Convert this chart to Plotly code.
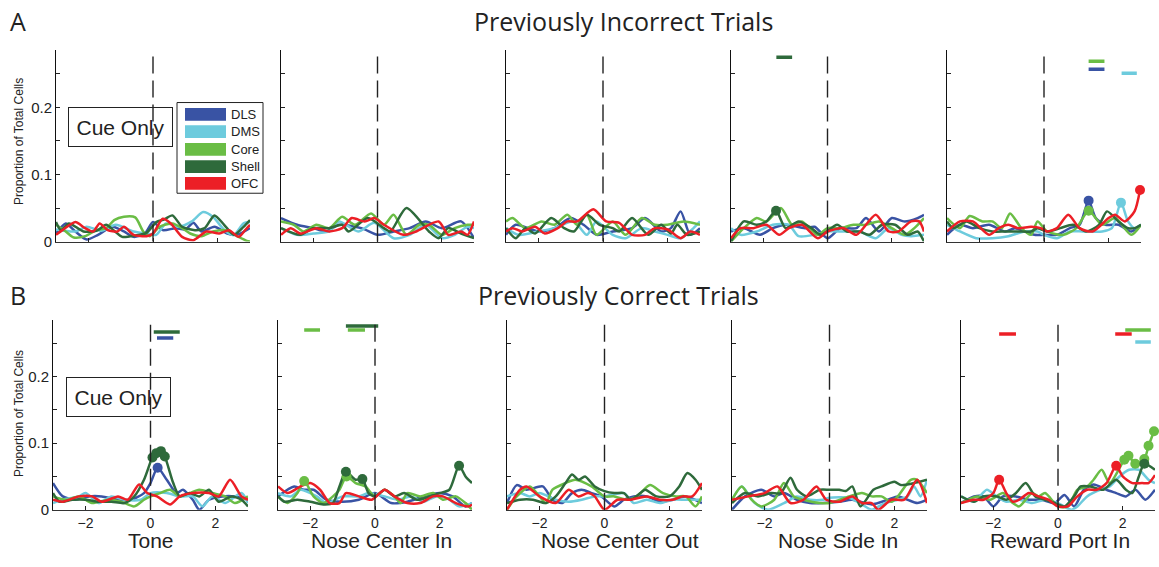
import plotly.graph_objects as go

W, H = 1159, 567

# ---------------- data ----------------
REGIONS = ["DLS", "DMS", "Core", "Shell", "OFC"]
COLORS = {"DLS": "#3953A4", "DMS": "#6DCBDD", "Core": "#6ABD45",
          "Shell": "#2E6A3B", "OFC": "#EC1F26"}
EVENTS = ["Tone", "Nose Center In", "Nose Center Out", "Nose Side In", "Reward Port In"]
ROW_TITLES = ["Previously Incorrect Trials", "Previously Correct Trials"]
ROW_LETTERS = ["A", "B"]
Y_TITLE = "Proportion of Total Cells"
BOX_TEXT = "Cue Only"
XTICKS = [-2, 0, 2]
YTICKS = [0, 0.05, 0.1, 0.15, 0.2, 0.25]
YTICKTEXT = ["0", "", "0.1", "", "0.2", ""]

# Previously incorrect trials
A1 = {
    "DLS": ([-3, -2.7, -2.4, -2.05, -1.7, -1.25, -0.9, -0.6, -0.25, 0, 0.3, 0.7, 1.0, 1.25, 1.5, 1.9, 2.3, 2.6, 3],
            [0.012, 0.027, 0.015, 0.003, 0.01, 0.022, 0.015, 0.007, 0.012, 0.029, 0.017, 0.02, 0.018, 0.028, 0.015, 0.022, 0.012, 0.01, 0.02]),
    "DMS": ([-3, -2.4, -2.05, -1.6, -1.15, -0.6, -0.2, 0.1, 0.4, 0.8, 1.2, 1.55, 1.85, 2.25, 2.5, 2.8, 3],
            [0.018, 0.015, 0.022, 0.016, 0.025, 0.015, 0.012, 0.01, 0.027, 0.022, 0.03, 0.044, 0.037, 0.015, 0.01, 0.027, 0.029]),
    "Core": ([-3, -2.7, -2.45, -2.1, -1.75, -1.45, -1.2, -0.9, -0.55, -0.3, -0.1, 0.2, 0.6, 0.9, 1.15, 1.5, 1.85, 2.25, 2.6, 2.9, 3],
             [0.025, 0.015, 0.006, 0.008, 0.017, 0.02, 0.032, 0.037, 0.036, 0.015, 0.008, 0.022, 0.027, 0.02, 0.012, 0.008, 0.015, 0.017, 0.008, 0.001, 0.0]),
    "Shell": ([-3, -2.85, -2.6, -2.15, -1.75, -1.45, -1.2, -0.95, -0.55, -0.2, 0.1, 0.35, 0.6, 0.9, 1.3, 1.6, 1.9, 2.2, 2.5, 2.8, 3],
              [0.029, 0.017, 0.027, 0.015, 0.016, 0.025, 0.016, 0.007, 0.009, 0.013, 0.029, 0.033, 0.039, 0.022, 0.017, 0.02, 0.039, 0.025, 0.01, 0.022, 0.032]),
    "OFC": ([-3, -2.8, -2.4, -2.1, -1.85, -1.65, -1.4, -1.1, -0.9, -0.6, -0.2, 0, 0.3, 0.55, 0.9, 1.25, 1.65, 2.05, 2.35, 2.65, 2.85, 3],
            [0.01, 0.017, 0.029, 0.02, 0.015, 0.027, 0.017, 0.015, 0.022, 0.01, 0.008, 0.012, 0.034, 0.027, 0.007, 0.002, 0.015, 0.012, 0.017, 0.007, 0.017, 0.025]),
}
A2 = {
    "DLS": ([-3, -2.5, -2, -1.6, -1.2, -0.5, 0, 0.5, 1, 1.5, 2, 2.6, 3],
            [0.035, 0.025, 0.02, 0.015, 0.025, 0.02, 0.01, 0.015, 0.02, 0.03, 0.02, 0.03, 0.005]),
    "DMS": ([-3, -2.5, -2, -1.5, -1.2, -0.6, -0.1, 0.5, 1, 1.5, 2, 2.4, 2.8, 3],
            [0.02, 0.01, 0.012, 0.015, 0.03, 0.015, 0.028, 0.005, 0.01, 0.025, 0.005, 0.01, 0.022, 0.02]),
    "Core": ([-3, -2.6, -2.3, -1.9, -1.5, -1.1, -0.7, -0.2, 0.2, 0.5, 0.9, 1.3, 1.6, 2.0, 2.4, 2.8, 3],
             [0.03, 0.025, 0.015, 0.025, 0.02, 0.037, 0.025, 0.042, 0.025, 0.04, 0.01, 0.025, 0.025, 0.01, 0.02, 0.025, 0.025]),
    "Shell": ([-3, -2.4, -2, -1.5, -1.1, -0.9, -0.3, 0.2, 0.4, 0.9, 1.6, 1.9, 2.2, 2.6, 3],
              [0.02, 0.01, 0.02, 0.02, 0.025, 0.015, 0.035, 0.02, 0.015, 0.05, 0.015, 0.005, 0.02, 0.012, 0.005]),
    "OFC": ([-3, -2.7, -2.4, -1.9, -1.5, -1.1, -0.8, -0.4, -0.1, 0.2, 0.8, 1.2, 1.9, 2.2, 2.6, 2.8, 3],
            [0.01, 0.02, 0.012, 0.02, 0.015, 0.02, 0.035, 0.03, 0.035, 0.025, 0.01, 0.015, 0.03, 0.01, 0.015, 0.01, 0.03]),
}
A3 = {
    "DLS": ([-3, -2.7, -2, -1.5, -1.0, -0.6, -0.2, 0.3, 0.9, 1.3, 1.8, 2.1, 2.4, 2.7, 3],
            [0.01, 0.025, 0.015, 0.02, 0.035, 0.025, 0.01, 0.015, 0.02, 0.035, 0.015, 0.02, 0.045, 0.01, 0.02]),
    "DMS": ([-3, -2.6, -2, -1.5, -0.9, -0.5, -0.2, 0.3, 0.7, 1.2, 1.6, 2, 2.4, 2.8, 3],
            [0.02, 0.01, 0.015, 0.02, 0.03, 0.01, 0.03, 0.01, 0.005, 0.02, 0.015, 0.01, 0.005, 0.02, 0.03]),
    "Core": ([-3, -2.8, -2.4, -1.9, -1.5, -1.1, -0.8, -0.5, -0.2, 0.3, 0.7, 1.2, 1.6, 2.0, 2.5, 3],
             [0.03, 0.035, 0.02, 0.03, 0.025, 0.04, 0.025, 0.04, 0.01, 0.03, 0.01, 0.035, 0.025, 0.025, 0.03, 0.025]),
    "Shell": ([-3, -2.7, -2.4, -2.1, -1.6, -1.2, -0.9, -0.5, -0.1, 0.3, 0.5, 0.9, 1.4, 1.8, 2.1, 2.3, 2.6, 3],
              [0.02, 0.005, 0.02, 0.012, 0.035, 0.02, 0.015, 0.04, 0.025, 0.02, 0.015, 0.035, 0.01, 0.025, 0.012, 0.025, 0.01, 0.015]),
    "OFC": ([-3, -2.8, -2.5, -2.1, -1.8, -1.4, -1.1, -0.8, -0.3, 0.1, 0.5, 0.9, 1.3, 1.6, 2.0, 2.4, 2.7, 3],
            [0.015, 0.02, 0.015, 0.022, 0.012, 0.02, 0.03, 0.03, 0.048, 0.03, 0.028, 0.01, 0.01, 0.02, 0.018, 0.005, 0.015, 0.01]),
}
A4 = {
    "DLS": ([-3, -2.6, -2.1, -1.7, -1.3, -0.7, -0.4, 0, 0.4, 0.9, 1.2, 1.6, 2.0, 2.4, 2.8, 3],
            [0.015, 0.02, 0.01, 0.02, 0.025, 0.02, 0.022, 0.005, 0.02, 0.02, 0.035, 0.015, 0.035, 0.03, 0.035, 0.04]),
    "DMS": ([-3, -2.7, -2.2, -1.7, -1.2, -0.9, -0.4, 0, 0.5, 1, 1.5, 1.9, 2.3, 2.6, 3],
            [0.02, 0.01, 0.015, 0.025, 0.025, 0.008, 0.01, 0.015, 0.015, 0.015, 0.005, 0.02, 0.01, 0.008, 0.01]),
    "Core": ([-3, -2.6, -2.2, -1.9, -1.45, -1.1, -0.8, -0.3, 0, 0.4, 0.8, 1.2, 1.6, 2.0, 2.4, 2.7, 3],
             [0.0, 0.02, 0.035, 0.03, 0.05, 0.025, 0.03, 0.01, 0.02, 0.02, 0.025, 0.025, 0.03, 0.02, 0.01, 0.02, 0.035]),
    "Shell": ([-3, -2.6, -2.2, -1.9, -1.6, -1.3, -0.9, -0.5, -0.2, 0.3, 0.6, 1, 1.3, 1.7, 2.1, 2.5, 2.8, 3],
              [0.0, 0.03, 0.025, 0.03, 0.046, 0.02, 0.03, 0.02, 0.01, 0.025, 0.015, 0.015, 0.01, 0.025, 0.025, 0.01, 0.015, 0.0]),
    "OFC": ([-3, -2.7, -2.3, -1.9, -1.5, -1.2, -0.8, -0.3, 0, 0.5, 0.9, 1.5, 1.9, 2.2, 2.6, 2.85, 3],
            [0.005, 0.02, 0.02, 0.025, 0.01, 0.02, 0.025, 0.005, 0.015, 0.02, 0.01, 0.04, 0.015, 0.015, 0.03, 0.03, 0.015]),
}
A5 = {
    "DLS": ([-3, -2.6, -2.2, -1.7, -1.2, -0.9, -0.3, 0, 0.4, 0.8, 1.1, 1.38, 1.6, 1.9, 2.3, 2.7, 3],
            [0.01, 0.025, 0.02, 0.025, 0.015, 0.02, 0.01, 0.01, 0.01, 0.02, 0.025, 0.061, 0.035, 0.025, 0.025, 0.015, 0.025]),
    "DMS": ([-3, -2.6, -2.1, -1.6, -1.1, -0.6, -0.2, 0, 0.4, 0.8, 1.2, 1.8, 2.1, 2.38, 2.6, 2.8, 3],
            [0.025, 0.015, 0.005, 0.005, 0.008, 0.015, 0.015, 0.01, 0.005, 0.015, 0.015, 0.015, 0.02, 0.058, 0.03, 0.02, 0.025]),
    "Core": ([-3, -2.6, -2.3, -1.9, -1.6, -1.3, -1.05, -0.7, -0.4, -0.2, 0.1, 0.6, 1.0, 1.38, 1.8, 2.2, 2.7, 3],
             [0.035, 0.02, 0.038, 0.03, 0.03, 0.02, 0.042, 0.02, 0.01, 0.03, 0.015, 0.01, 0.02, 0.046, 0.025, 0.035, 0.01, 0.025]),
    "Shell": ([-3, -2.8, -2.4, -2, -1.6, -1.2, -0.8, -0.4, -0.2, 0.1, 0.5, 0.9, 1.3, 1.7, 1.95, 2.3, 2.6, 2.8, 3],
              [0.03, 0.02, 0.03, 0.02, 0.015, 0.015, 0.015, 0.015, 0.02, 0.015, 0.02, 0.025, 0.015, 0.025, 0.045, 0.03, 0.02, 0.02, 0.025]),
    "OFC": ([-3, -2.6, -2.2, -1.7, -1.4, -1.1, -0.8, -0.4, -0.1, 0.1, 0.4, 0.75, 1.1, 1.5, 2.0, 2.2, 2.5, 2.8, 2.97],
            [0.015, 0.03, 0.03, 0.01, 0.02, 0.025, 0.02, 0.022, 0.02, 0.015, 0.02, 0.04, 0.02, 0.015, 0.035, 0.04, 0.03, 0.045, 0.077]),
}

# Previously correct trials
B1 = {
    "DLS": ([-3, -2.7, -2.3, -1.9, -1.5, -1, -0.6, -0.2, 0, 0.22, 0.5, 0.8, 1.0, 1.3, 1.5, 1.8, 2.2, 2.6, 3],
            [0.04, 0.02, 0.015, 0.02, 0.02, 0.015, 0.015, 0.025, 0.04, 0.063, 0.045, 0.025, 0.03, 0.015, 0.0, 0.015, 0.02, 0.02, 0.015]),
    "DMS": ([-3, -2.7, -2.2, -2.0, -1.6, -1.2, -0.8, -0.3, 0, 0.5, 0.9, 1.3, 1.6, 1.9, 2.3, 2.8, 3],
            [0.01, 0.015, 0.02, 0.025, 0.01, 0.02, 0.015, 0.015, 0.025, 0.025, 0.02, 0.02, 0.005, 0.02, 0.01, 0.025, 0.01]),
    "Core": ([-3, -2.6, -2.2, -1.8, -1.3, -0.9, -0.5, -0.2, 0, 0.3, 0.6, 0.9, 1.2, 1.5, 1.9, 2.3, 2.6, 3],
             [0.02, 0.015, 0.02, 0.01, 0.015, 0.012, 0.005, 0.015, 0.02, 0.025, 0.03, 0.02, 0.025, 0.03, 0.025, 0.02, 0.01, 0.02]),
    "Shell": ([-3, -2.8, -2.4, -2, -1.6, -1.2, -0.8, -0.5, -0.2, 0.06, 0.18, 0.32, 0.44, 0.7, 0.9, 1.2, 1.5, 1.8, 2.1, 2.5, 2.8, 3],
              [0.025, 0.012, 0.015, 0.015, 0.012, 0.012, 0.01, 0.02, 0.045, 0.0785, 0.085, 0.088, 0.08, 0.04, 0.02, 0.025, 0.02, 0.03, 0.012, 0.02, 0.015, 0.005]),
    "OFC": ([-3, -2.7, -2.2, -1.8, -1.5, -1, -0.7, -0.35, -0.1, 0.2, 0.6, 0.9, 1.3, 1.8, 2.1, 2.45, 2.8, 3],
            [0.015, 0.012, 0.02, 0.02, 0.012, 0.02, 0.015, 0.038, 0.025, 0.02, 0.008, 0.02, 0.025, 0.025, 0.02, 0.045, 0.02, 0.015]),
}
B2 = {
    "DLS": ([-3, -2.5, -2.2, -1.9, -1.5, -1, -0.5, 0, 0.5, 1, 1.5, 2, 2.4, 2.8, 3],
            [0.02, 0.035, 0.03, 0.03, 0.015, 0.012, 0.015, 0.025, 0.01, 0.012, 0.02, 0.025, 0.02, 0.005, 0.01]),
    "DMS": ([-3, -2.6, -2.3, -1.8, -1.5, -1, -0.5, -0.2, 0.3, 0.7, 1.1, 1.5, 1.9, 2.3, 2.6, 3],
            [0.025, 0.02, 0.03, 0.02, 0.01, 0.02, 0.02, 0.025, 0.02, 0.015, 0.02, 0.012, 0.02, 0.015, 0.005, 0.01]),
    "Core": ([-3, -2.7, -2.4, -2.19, -1.9, -1.6, -1.3, -1.1, -0.88, -0.6, -0.3, 0, 0.3, 0.6, 0.8, 1, 1.4, 1.8, 2.1, 2.5, 2.8, 3],
             [0.02, 0.01, 0.025, 0.043, 0.02, 0.01, 0.02, 0.03, 0.05, 0.04, 0.035, 0.02, 0.03, 0.02, 0.01, 0.025, 0.02, 0.025, 0.015, 0.02, 0.01, 0.0]),
    "Shell": ([-3, -2.8, -2.4, -2, -1.6, -1.3, -1.1, -0.9, -0.6, -0.39, -0.2, 0, 0.3, 0.6, 0.9, 1.3, 1.7, 2, 2.3, 2.6, 2.8, 3],
              [0.02, 0.012, 0.015, 0.012, 0.008, 0.01, 0.035, 0.057, 0.045, 0.046, 0.025, 0.02, 0.03, 0.02, 0.025, 0.015, 0.02, 0.025, 0.03, 0.066, 0.05, 0.04]),
    "OFC": ([-3, -2.7, -2.3, -2, -1.7, -1.4, -1.1, -0.9, -0.5, -0.1, 0.3, 0.6, 1, 1.4, 1.8, 2.1, 2.5, 2.9, 3],
            [0.035, 0.025, 0.035, 0.04, 0.03, 0.01, 0.01, 0.025, 0.02, 0.015, 0.03, 0.02, 0.01, 0.01, 0.02, 0.02, 0.01, 0.005, 0.008]),
}
B3 = {
    "DLS": ([-3, -2.7, -2.4, -1.9, -1.6, -1.3, -1, -0.7, -0.4, -0.1, 0.3, 0.6, 0.9, 1.3, 1.7, 2.1, 2.5, 3],
            [0.01, 0.037, 0.03, 0.035, 0.015, 0.01, 0.025, 0.03, 0.025, 0.02, 0.005, 0.015, 0.02, 0.02, 0.012, 0.015, 0.02, 0.01]),
    "DMS": ([-3, -2.6, -2.3, -2, -1.5, -1.1, -0.7, -0.3, 0, 0.6, 0.9, 1.3, 1.7, 2.1, 2.5, 3],
            [0.02, 0.025, 0.02, 0.025, 0.015, 0.012, 0.015, 0.02, 0.02, 0.025, 0.01, 0.015, 0.01, 0.015, 0.015, 0.015]),
    "Core": ([-3, -2.7, -2.3, -2, -1.8, -1.6, -1.2, -0.9, -0.4, 0, 0.3, 0.7, 1, 1.4, 1.8, 2.2, 2.5, 2.8, 3],
             [0.0, 0.02, 0.035, 0.02, 0.01, 0.03, 0.04, 0.045, 0.035, 0.02, 0.02, 0.015, 0.02, 0.037, 0.025, 0.02, 0.02, 0.005, 0.02]),
    "Shell": ([-3, -2.6, -2.2, -1.8, -1.5, -1.2, -1, -0.8, -0.6, -0.3, 0, 0.3, 0.6, 0.8, 1.1, 1.25, 1.6, 2, 2.3, 2.55, 2.8, 3],
              [0.01, 0.015, 0.015, 0.01, 0.02, 0.04, 0.053, 0.045, 0.05, 0.035, 0.028, 0.025, 0.025, 0.015, 0.025, 0.03, 0.02, 0.02, 0.035, 0.055, 0.045, 0.03]),
    "OFC": ([-3, -2.6, -2.4, -2, -1.5, -1.1, -0.8, -0.5, -0.3, 0, 0.4, 0.8, 1.3, 1.7, 2.1, 2.4, 2.7, 3],
            [0.0, 0.03, 0.035, 0.02, 0.01, 0.03, 0.02, 0.025, 0.02, 0.0, 0.015, 0.015, 0.02, 0.015, 0.015, 0.02, 0.02, 0.04]),
}
B4 = {
    "DLS": ([-3, -2.6, -2.1, -1.7, -1.4, -1, -0.6, -0.2, 0.3, 0.7, 1.3, 1.8, 2.1, 2.4, 2.7, 3],
            [0.0, 0.02, 0.03, 0.02, 0.025, 0.015, 0.01, 0.01, 0.012, 0.015, 0.008, 0.015, 0.02, 0.015, 0.01, 0.015]),
    "DMS": ([-3, -2.7, -2.3, -1.9, -1.4, -1, -0.6, -0.2, 0, 0.6, 1, 1.3, 1.7, 2.1, 2.4, 2.6, 2.8, 3],
            [0.015, 0.035, 0.01, 0.0, 0.01, 0.02, 0.015, 0.015, 0.018, 0.018, 0.008, 0.0, 0.01, 0.015, 0.02, 0.035, 0.02, 0.045]),
    "Core": ([-3, -2.7, -2.4, -2.1, -1.7, -1.4, -1.1, -0.8, -0.3, 0, 0.6, 1, 1.3, 1.6, 1.9, 2.1, 2.5, 2.7, 3],
             [0.015, 0.035, 0.015, 0.005, 0.015, 0.04, 0.02, 0.015, 0.01, 0.01, 0.02, 0.025, 0.02, 0.02, 0.012, 0.02, 0.045, 0.045, 0.025]),
    "Shell": ([-3, -2.6, -2.2, -1.8, -1.5, -1.2, -1, -0.7, -0.3, 0, 0.3, 0.5, 0.7, 0.95, 1.35, 1.6, 2, 2.2, 2.6, 3],
              [0.01, 0.025, 0.02, 0.025, 0.025, 0.048, 0.03, 0.02, 0.03, 0.03, 0.03, 0.028, 0.035, 0.005, 0.03, 0.035, 0.042, 0.037, 0.04, 0.045]),
    "OFC": ([-3, -2.5, -2, -1.6, -1.2, -0.8, -0.4, -0.1, 0.3, 0.7, 1, 1.3, 1.5, 1.9, 2.3, 2.7, 3],
            [0.015, 0.02, 0.025, 0.035, 0.01, 0.015, 0.035, 0.015, 0.012, 0.02, 0.01, 0.01, 0.0, 0.015, 0.015, 0.045, 0.01]),
}
B5 = {
    "DLS": ([-3, -2.6, -2.3, -2, -1.7, -1.3, -0.9, -0.5, -0.1, 0.2, 0.5, 0.8, 1.1, 1.5, 1.8, 2.1, 2.4, 2.7, 3],
            [0.01, 0.02, 0.02, 0.005, 0.02, 0.02, 0.015, 0.015, 0.01, 0.022, 0.005, 0.03, 0.038, 0.03, 0.025, 0.02, 0.03, 0.015, 0.03]),
    "DMS": ([-3, -2.6, -2.2, -1.9, -1.6, -1.2, -0.8, -0.4, 0, 0.4, 0.6, 0.9, 1.3, 1.6, 1.9, 2.2, 2.5, 2.8, 3],
            [0.02, 0.012, 0.03, 0.02, 0.012, 0.015, 0.01, 0.015, 0.01, 0.0, 0.005, 0.02, 0.03, 0.035, 0.05, 0.06, 0.06, 0.045, 0.04]),
    "Core": ([-3, -2.5, -2.1, -1.7, -1.4, -1.2, -0.8, -0.6, -0.4, 0, 0.3, 0.6, 0.9, 1.1, 1.35, 1.6, 2.05, 2.18, 2.39, 2.67, 2.8, 2.97],
             [0.01, 0.02, 0.015, 0.025, 0.01, 0.005, 0.025, 0.02, 0.025, 0.005, 0.005, 0.03, 0.035, 0.045, 0.06, 0.04, 0.075, 0.081, 0.069, 0.076, 0.096, 0.118]),
    "Shell": ([-3, -2.6, -2.3, -1.9, -1.6, -1.3, -1, -0.7, -0.4, -0.1, 0.2, 0.5, 0.7, 1, 1.4, 1.8, 2.1, 2.3, 2.5, 2.67, 3],
              [0.02, 0.012, 0.02, 0.02, 0.015, 0.025, 0.04, 0.02, 0.015, 0.01, 0.005, 0.02, 0.035, 0.035, 0.03, 0.045, 0.03, 0.025, 0.05, 0.069, 0.06]),
    "OFC": ([-3, -2.6, -2.3, -2, -1.82, -1.6, -1.4, -1.2, -0.9, -0.6, -0.3, 0, 0.3, 0.6, 0.9, 1.2, 1.5, 1.8, 2, 2.3, 2.6, 2.8, 3],
            [0.01, 0.015, 0.015, 0.025, 0.045, 0.025, 0.012, 0.015, 0.025, 0.02, 0.015, 0.005, 0.005, 0.02, 0.03, 0.03, 0.04, 0.066, 0.05, 0.04, 0.04, 0.04, 0.052]),
}
PANELS = [[A1, A2, A3, A4, A5], [B1, B2, B3, B4, B5]]

# significant time bins (x values of marked points, taken from the series above)
SIG_POINTS = {
    (0, 3): {"Shell": [-1.6]},
    (0, 4): {"DLS": [1.38], "Core": [1.38], "DMS": [2.38], "OFC": [2.97]},
    (1, 0): {"Shell": [0.06, 0.18, 0.32, 0.44], "DLS": [0.22]},
    (1, 1): {"Core": [-2.19, -0.88], "Shell": [-0.9, -0.39, 2.6]},
    (1, 4): {"OFC": [-1.82, 1.8], "Core": [2.05, 2.18, 2.39, 2.67, 2.8, 2.97], "Shell": [2.67]},
}
# significance bars: (region, x start, x end, level)
SIG_BARS = {
    (0, 3): [("Shell", -1.59, -1.1, 0.275)],
    (0, 4): [("Core", 1.38, 1.87, 0.269), ("DLS", 1.38, 1.87, 0.257), ("DMS", 2.4, 2.87, 0.251)],
    (1, 0): [("Shell", 0.1, 0.9, 0.267), ("DLS", 0.2, 0.7, 0.258)],
    (1, 1): [("Core", -2.19, -1.7, 0.27), ("Shell", -0.9, 0.1, 0.276), ("Core", -0.84, -0.31, 0.27)],
    (1, 4): [("OFC", -1.82, -1.3, 0.264), ("OFC", 1.77, 2.28, 0.264),
             ("Core", 2.08, 2.87, 0.27), ("DMS", 2.39, 2.87, 0.252)],
}

# ---------------- layout geometry (pixels) ----------------
ROW_X = [[(56, 250), (281, 474), (506, 700), (731, 924), (947, 1141)],
         [(53, 248), (278, 472), (507, 702), (732, 927), (961, 1155)]]
ROW_Y = [(51.2, 245), (324.6, 517)]
YMAX = 0.285
EVENT_LABEL_X = [151, 381, 620, 838, 1060]
SANS = "Liberation Sans, Arial, sans-serif"
TITLE_FONT = "Open Sans, Noto Sans, sans-serif"


def fx(p):
    return p / W


def fy(p):
    return 1 - p / H


fig = go.Figure()
layout = dict(width=W, height=H, margin=dict(l=0, r=0, t=0, b=0),
              paper_bgcolor="white", plot_bgcolor="white", showlegend=False)
shapes = []
annotations = []

k = 0
for r in range(2):
    for c in range(5):
        k += 1
        sx = "" if k == 1 else str(k)
        xref, yref = "x" + sx, "y" + sx
        x0, x1 = ROW_X[r][c]
        ytop, ybot = ROW_Y[r]
        layout["xaxis" + sx] = dict(
            domain=[fx(x0), fx(x1)], range=[-3, 3], anchor=yref,
            tickvals=XTICKS, ticks="inside", ticklen=4, tickcolor="#222",
            showline=True, linecolor="#333", linewidth=1, mirror=False,
            showgrid=False, zeroline=False, showticklabels=(r == 1),
            tickfont=dict(family=SANS, size=14, color="#222"), fixedrange=True)
        layout["yaxis" + sx] = dict(
            domain=[fy(ybot), fy(ytop)], range=[0, YMAX], anchor=xref,
            tickvals=YTICKS, ticktext=YTICKTEXT, ticks="inside", ticklen=4,
            tickcolor="#222", showline=True, linecolor="#111", linewidth=1,
            showgrid=False, zeroline=False, showticklabels=(c == 0),
            tickfont=dict(family=SANS, size=15, color="#222"), fixedrange=True)

        # dashed event line at x = 0
        shapes.append(dict(type="line", xref=xref, yref=yref + " domain",
                           x0=0, x1=0, y0=0, y1=1,
                           line=dict(color="#222", width=1.4, dash="17px,7px")))

        panel = PANELS[r][c]
        for reg in REGIONS:
            xs, ys = panel[reg]
            fig.add_trace(go.Scatter(
                x=xs, y=ys, mode="lines", xaxis=xref, yaxis=yref,
                line=dict(color=COLORS[reg], width=2.5, shape="spline", smoothing=0.7),
                hoverinfo="skip"))
        for reg, xv in SIG_POINTS.get((r, c), {}).items():
            xs, ys = panel[reg]
            my = [ys[xs.index(v)] for v in xv]
            fig.add_trace(go.Scatter(
                x=xv, y=my, mode="markers", xaxis=xref, yaxis=yref, cliponaxis=False,
                marker=dict(color=COLORS[reg], size=10, line=dict(width=0)),
                hoverinfo="skip"))
        for reg, b0, b1, lvl in SIG_BARS.get((r, c), []):
            fig.add_trace(go.Scatter(
                x=[b0, b1], y=[lvl, lvl], mode="lines", xaxis=xref, yaxis=yref,
                line=dict(color=COLORS[reg], width=3.5), hoverinfo="skip"))

        if r == 1:
            annotations.append(dict(text=EVENTS[c], xref="paper", yref="paper",
                                    x=fx(EVENT_LABEL_X[c]), y=fy(548), xanchor="center",
                                    yanchor="middle", showarrow=False,
                                    font=dict(family=SANS, size=21, color="#222")))

# row titles, letters, y-titles, "Cue Only" boxes
for r, (tx, ty) in enumerate([(623, 21), (618, 299)]):
    annotations.append(dict(text=ROW_TITLES[r], xref="paper", yref="paper",
                            x=fx(tx), y=fy(ty), xanchor="center", yanchor="middle",
                            showarrow=False, font=dict(family=TITLE_FONT, size=25, color="#222")))
for r, (lx, ly) in enumerate([(18, 21), (18, 299)]):
    annotations.append(dict(text=ROW_LETTERS[r], xref="paper", yref="paper",
                            x=fx(lx), y=fy(ly), xanchor="center", yanchor="middle",
                            showarrow=False, font=dict(family=TITLE_FONT, size=25, color="#222")))
for r, ly in enumerate([144, 420]):
    annotations.append(dict(text=Y_TITLE, xref="paper", yref="paper", textangle=-90,
                            x=fx(19), y=fy(ly), xanchor="center", yanchor="middle",
                            showarrow=False, font=dict(family=SANS, size=12, color="#222")))
for r, (bx, by) in enumerate([(120.5, 129), (118, 403)]):
    annotations.append(dict(text=BOX_TEXT, xref="paper", yref="paper",
                            x=fx(bx), y=fy(by), xanchor="center", yanchor="middle",
                            showarrow=False, width=103, height=38, borderpad=0,
                            bordercolor="#222", borderwidth=1,
                            font=dict(family=SANS, size=21, color="#222")))

# legend box (drawn manually inside panel A1)
shapes.append(dict(type="rect", xref="paper", yref="paper",
                   x0=fx(177), x1=fx(263), y0=fy(196), y1=fy(104),
                   line=dict(color="#222", width=1), fillcolor="white", layer="above"))
for i, (reg, cy) in enumerate(zip(REGIONS, [116, 133.5, 151.5, 169, 186])):
    shapes.append(dict(type="rect", xref="paper", yref="paper",
                       x0=fx(185), x1=fx(226), y0=fy(cy + 6.5), y1=fy(cy - 6.5),
                       line=dict(width=0), fillcolor=COLORS[reg], layer="above"))
    annotations.append(dict(text=reg, xref="paper", yref="paper",
                            x=fx(229), y=fy(cy), xanchor="left", yanchor="middle",
                            showarrow=False, font=dict(family=SANS, size=13, color="#222")))

layout["shapes"] = shapes
layout["annotations"] = annotations
fig.update_layout(**layout)
fig.write_html("out.html", config={"displayModeBar": False},
               post_script="document.body.style.margin='0';document.body.style.overflow='hidden';")
